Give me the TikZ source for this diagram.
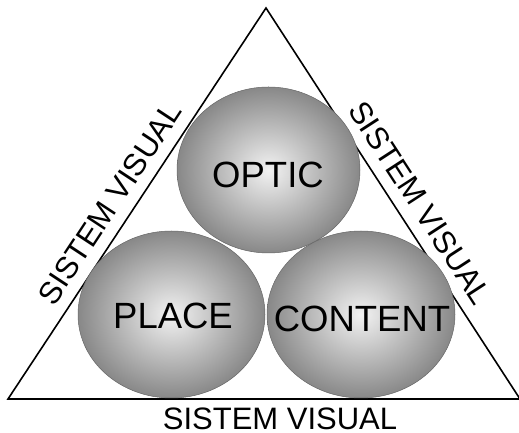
\documentclass[tikz,border=0pt]{standalone}
\usepackage{fontspec}
\setmainfont{Liberation Sans}
\usepackage{tikz}
\usetikzlibrary{positioning}

\definecolor{ballcore}{RGB}{242,242,242}
\definecolor{ballrim}{RGB}{136,136,136}
\pgfdeclareradialshading{sphere}{\pgfpoint{0bp}{0bp}}{color(0bp)=(ballcore); color(25bp)=(ballrim); color(50bp)=(ballrim)}

\tikzset{
    ball/.style={shading=sphere, draw=ballrim!75!black, line width=0.5pt},
    word/.style={inner sep=0pt, font=\fontsize{36.5}{40}\selectfont},
    side/.style={inner sep=0pt, font=\fontsize{31}{34}\selectfont},
}

\begin{document}
\begin{tikzpicture}[x=1pt,y=1pt]
    \useasboundingbox (0,0) rectangle (519,433);
    % triangle
    \coordinate (base left) at (8,34);
    \coordinate (apex) at (266,425);
    \coordinate (base right) at (520,34);
    \draw[line width=1.6pt] (base left) -- (apex) -- (base right) -- cycle;
    % the three balls
    \foreach \bx/\by/\rx/\ry/\tx/\ty/\name/\word in {
        268.5/263/91.5/83/268/258/optic/OPTIC,
        171.5/118.5/93.5/83.5/173/117/place/PLACE,
        361/118.5/94/83.5/362/114.5/content/CONTENT}{
        \shade[ball] (\bx,\by) ellipse [x radius=\rx, y radius=\ry];
        \node[word] (\name) at (\tx,\ty) {\word};
    }
    % labels on the sides
    \node[side, rotate=56.6] (visual left) at (110,229.5) {SISTEM VISUAL};
    \node[side, rotate=-57] (visual right) at (420,230) {SISTEM VISUAL};
    \node[side] (visual base) at (280,14) {SISTEM VISUAL};
\end{tikzpicture}
\end{document}
